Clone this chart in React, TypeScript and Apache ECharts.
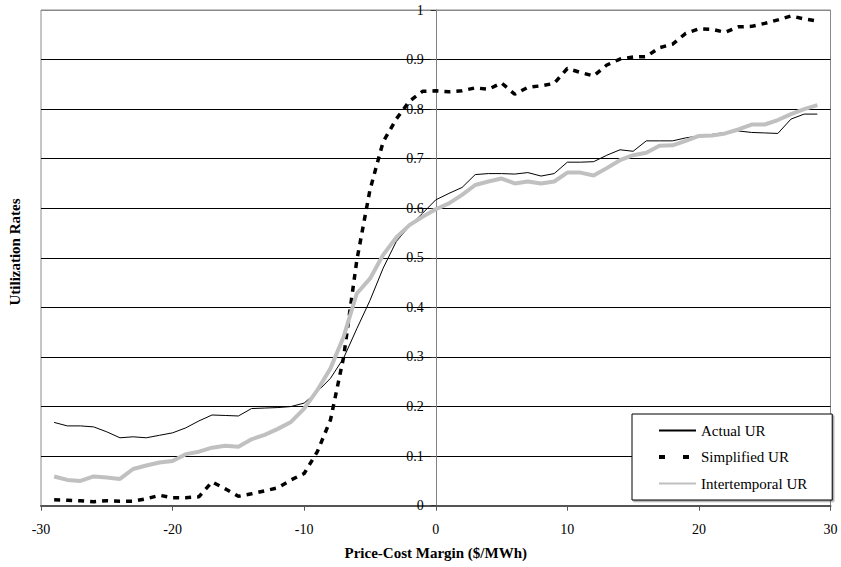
import React, { useEffect, useRef } from "react";
import * as echarts from "echarts";

const margins = [
  -29, -28, -27, -26, -25, -24, -23, -22, -21, -20, -19, -18, -17, -16, -15,
  -14, -13, -12, -11, -10, -9, -8, -7, -6, -5, -4, -3, -2, -1, 0, 1, 2, 3, 4,
  5, 6, 7, 8, 9, 10, 11, 12, 13, 14, 15, 16, 17, 18, 19, 20, 21, 22, 23, 24,
  25, 26, 27, 28, 29,
];

const actualUR = [
  0.168, 0.161, 0.161, 0.159, 0.149, 0.137, 0.139, 0.137, 0.142, 0.147, 0.157,
  0.171, 0.183, 0.182, 0.181, 0.196, 0.197, 0.198, 0.2, 0.207, 0.23, 0.257,
  0.298, 0.357, 0.414, 0.479, 0.533, 0.564, 0.59, 0.617, 0.63, 0.642, 0.668,
  0.67, 0.67, 0.669, 0.672, 0.665, 0.67, 0.693, 0.693, 0.694, 0.707, 0.718,
  0.715, 0.736, 0.736, 0.736, 0.742, 0.746, 0.749, 0.753, 0.756, 0.753, 0.752,
  0.751, 0.78, 0.79, 0.79,
];

const simplifiedUR = [
  0.012, 0.011, 0.01, 0.008, 0.01, 0.009, 0.009, 0.014, 0.021, 0.016, 0.016,
  0.018, 0.048, 0.034, 0.019, 0.024, 0.03, 0.036, 0.052, 0.065, 0.109, 0.173,
  0.3, 0.495, 0.637, 0.734, 0.78, 0.816, 0.836, 0.837, 0.835, 0.837, 0.843,
  0.84, 0.853, 0.83, 0.844, 0.847, 0.852, 0.882, 0.874, 0.867, 0.889, 0.901,
  0.905, 0.906, 0.924, 0.931, 0.953, 0.962, 0.961, 0.955, 0.966, 0.967, 0.973,
  0.98, 0.988, 0.982, 0.978,
];

const intertemporalUR = [
  0.059, 0.052, 0.05, 0.059, 0.057, 0.054, 0.074, 0.081, 0.087, 0.09, 0.104,
  0.109, 0.117, 0.121, 0.119, 0.134, 0.143, 0.155, 0.169, 0.196, 0.233, 0.277,
  0.341, 0.428, 0.458, 0.506, 0.541, 0.566, 0.583, 0.598, 0.61, 0.627, 0.647,
  0.654, 0.66, 0.65, 0.654, 0.65, 0.654, 0.672, 0.672, 0.666, 0.681, 0.697,
  0.707, 0.712, 0.726, 0.727, 0.736, 0.746, 0.747, 0.751, 0.759, 0.769, 0.769,
  0.778, 0.79, 0.8, 0.808,
];

const seriesNames = ["Actual UR", "Simplified UR", "Intertemporal UR"];
const xTitle = "Price-Cost Margin ($/MWh)";
const yTitle = "Utilization Rates";

const FONT = "'Liberation Serif', 'Times New Roman', serif";

const pairs = (ys: number[]) => margins.map((x, i) => [x, ys[i]]);

export default function App() {
  const ref = useRef<HTMLDivElement>(null);

  useEffect(() => {
    if (!ref.current) return;
    const chart = echarts.init(ref.current, undefined, { renderer: "svg" });
    const gridColors = [
      "#000", "#000", "#000", "#000", "#000", "#000", "#000", "#000", "#000", "#000", "#888",
    ];
    const gridLeft = 41;
    const gridRight = 10.5;
    const plotWidth = 841 - gridLeft - gridRight;
    // place the y axis at x = 0 (middle of the -30..30 range)
    const yAxisOffset = -plotWidth / 2;
    chart.setOption({
      animation: false,
      backgroundColor: "#fff",
      textStyle: { fontFamily: FONT },
      grid: {
        left: gridLeft,
        right: gridRight,
        top: 10,
        bottom: 61.3,
        show: true,
        borderColor: "#8a8a8a",
        borderWidth: 1,
        backgroundColor: "transparent",
      },
      xAxis: {
        type: "value",
        min: -30,
        max: 30,
        interval: 10,
        name: xTitle,
        nameLocation: "middle",
        nameGap: 40,
        nameTextStyle: {
          fontFamily: FONT,
          fontWeight: "bold",
          fontSize: 15,
          color: "#000",
        },
        axisLine: { onZero: false, lineStyle: { color: "#555", width: 2 } },
        axisTick: { show: true, length: 5, lineStyle: { color: "#555", width: 1 } },
        axisLabel: { fontFamily: FONT, fontSize: 14, color: "#000", margin: 17 },
        splitLine: { show: false },
      },
      yAxis: {
        type: "value",
        min: 0,
        max: 1,
        interval: 0.1,
        offset: yAxisOffset,
        axisLine: { show: true, onZero: false, lineStyle: { color: "#808080", width: 1 } },
        axisTick: { show: true, length: 5, lineStyle: { color: "#333", width: 1 } },
        axisLabel: {
          fontFamily: FONT,
          fontSize: 14,
          color: "#000",
          margin: 12,
          formatter: (v: number) => String(Math.round(v * 10) / 10),
        },
        splitLine: { show: true, lineStyle: { color: gridColors, width: 1 } },
      },
      legend: {
        orient: "vertical",
        left: 632,
        top: 414,
        data: [
          { name: seriesNames[0] },
          { name: seriesNames[1], lineStyle: { type: [6, 18], width: 4 } },
          { name: seriesNames[2] },
        ],
        backgroundColor: "#fff",
        borderColor: "#000",
        borderWidth: 1,
        shadowColor: "rgba(0,0,0,0.35)",
        shadowOffsetX: 1.5,
        shadowOffsetY: 1.5,
        padding: [9, 25, 9, 25],
        itemWidth: 37,
        itemHeight: 14,
        itemGap: 11.5,
        itemStyle: { opacity: 0 },
        textStyle: { fontFamily: FONT, fontSize: 15, color: "#000" },
      },
      graphic: [
        {
          type: "text",
          x: 15,
          y: 252,
          rotation: Math.PI / 2,
          style: {
            text: yTitle,
            font: `bold 15px ${FONT}`,
            fill: "#000",
            align: "center",
            verticalAlign: "middle",
          },
        },
      ],
      series: [
        {
          name: seriesNames[0],
          type: "line",
          data: pairs(actualUR),
          showSymbol: false,
          symbol: "none",
          lineStyle: { color: "#000", width: 1 },
          itemStyle: { color: "#000" },
          z: 2,
        },
        {
          name: seriesNames[1],
          type: "line",
          data: pairs(simplifiedUR),
          showSymbol: false,
          symbol: "none",
          lineStyle: { color: "#000", width: 3.5, type: [6, 6], cap: "butt" },
          itemStyle: { color: "#000" },
          z: 3,
        },
        {
          name: seriesNames[2],
          type: "line",
          data: pairs(intertemporalUR),
          showSymbol: false,
          symbol: "none",
          lineStyle: { color: "#c0c0c0", width: 4 },
          itemStyle: { color: "#c0c0c0" },
          z: 4,
        },
      ],
    });
    return () => chart.dispose();
  }, []);

  return <div ref={ref} style={{ width: 841, height: 567, position: "absolute", left: 0, top: 0 }} />;
}
